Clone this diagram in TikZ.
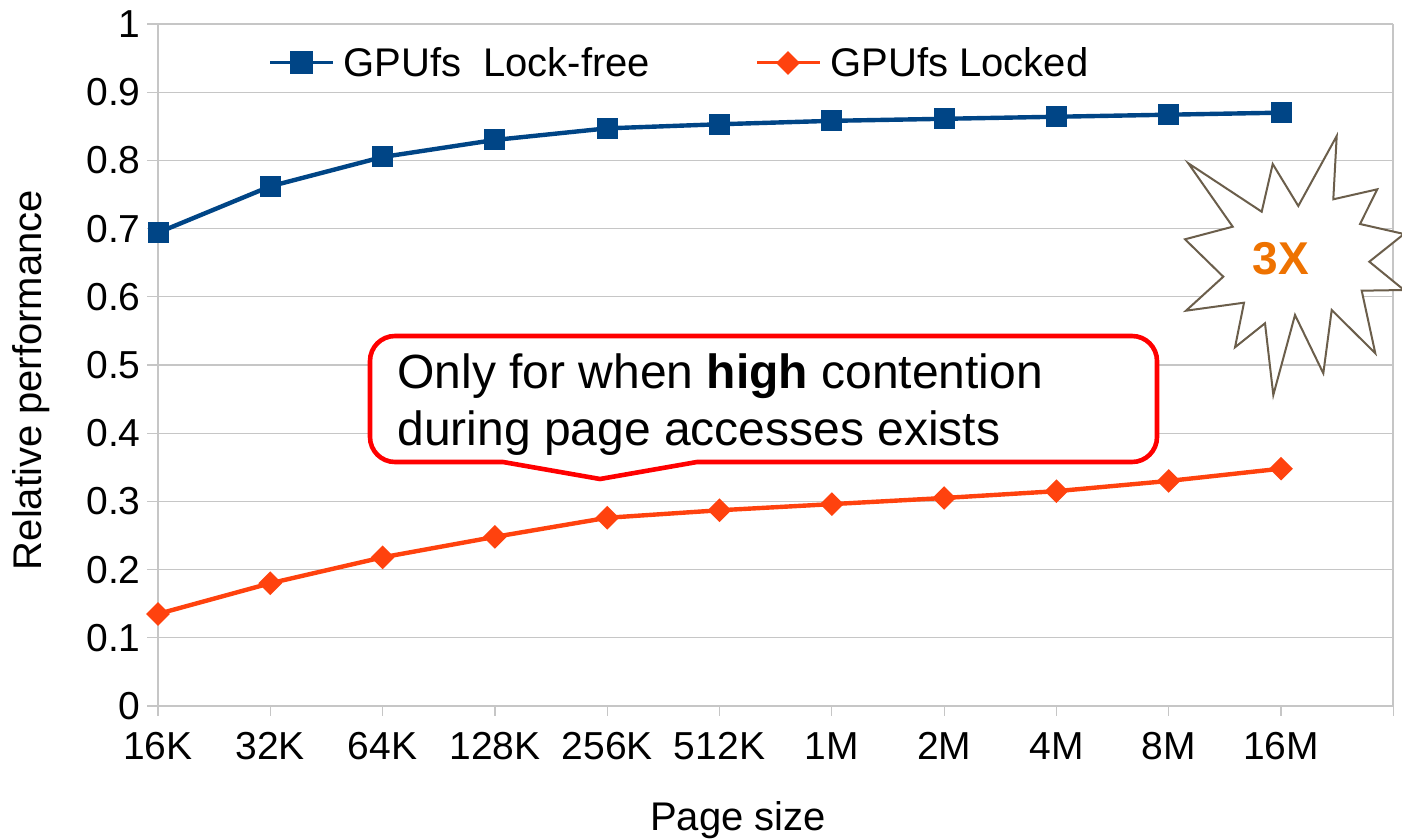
\documentclass[tikz,border=0pt]{standalone}
\usepackage{fontspec}
\setmainfont{Liberation Sans}
\usetikzlibrary{calc,shapes.geometric}
\definecolor{serA}{HTML}{004586}
\definecolor{serB}{HTML}{FF420E}
\definecolor{gridc}{HTML}{C6C6C6}
\definecolor{starc}{HTML}{6B5E4B}
\definecolor{hot}{HTML}{EE7200}
\definecolor{calloutc}{HTML}{FF0000}

\tikzset{
  gridline/.style={gridc, line width=0.6pt},
  seriesA/.style={serA, line width=2.2pt, line join=round},
  seriesB/.style={serB, line width=2.2pt, line join=round},
  sqmark/.style={rectangle, fill=serA, minimum size=10.5pt, inner sep=0pt},
  dmmark/.style={diamond, fill=serB, minimum width=12pt, minimum height=12pt, inner sep=0pt, aspect=1},
  ticklabel/.style={font=\fontsize{19.5}{23}\selectfont, inner sep=0pt},
  axistitle/.style={font=\fontsize{20}{24}\selectfont, inner sep=0pt},
  legendtext/.style={font=\fontsize{20}{24}\selectfont, inner sep=0pt, anchor=base west},
  callouttext/.style={font=\fontsize{24}{28}\selectfont, inner sep=0pt, anchor=base west},
}

\begin{document}
\begin{tikzpicture}[x=0.5pt, y=-0.5pt]
  \useasboundingbox[fill=white] (0,0) rectangle (1402,839);

  % horizontal grid lines with short ticks on the left
  \foreach \k in {0,...,10} {
    \draw[gridline] (147,{706-\k*68.2}) -- (1393,{706-\k*68.2});
  }
  % frame: left and right borders
  \draw[gridline] (158,24) -- (158,706);
  \draw[gridline] (1393,24) -- (1393,706);
  % category ticks below the x axis
  \foreach \i in {0,...,11} {
    \draw[gridline] ({158+\i*112.3},706) -- ({158+\i*112.3},716);
  }

  % y tick labels
  \foreach \lab [count=\k from 0] in {0,0.1,0.2,0.3,0.4,0.5,0.6,0.7,0.8,0.9,1} {
    \node[ticklabel, anchor=east] (ylab\k) at (141,{706-\k*68.2}) {\lab};
  }
  % x tick labels
  \foreach \lab [count=\i from 0] in {16K,32K,64K,128K,256K,512K,1M,2M,4M,8M,16M} {
    \node[ticklabel] (xlab\i) at ({158+\i*112.3},746) {\lab};
  }

  % axis titles
  \node[axistitle, rotate=90] (ytitle) at (31,380) {Relative performance};
  \node[axistitle] (xtitle) at (738,820) {Page size};

  % data points
  \foreach \v [count=\i from 0] in {0.694,0.762,0.805,0.830,0.847,0.853,0.858,0.861,0.864,0.867,0.870} {
    \coordinate (b\i) at ({158+\i*112.3},{706-\v*682});
  }
  \foreach \v [count=\i from 0] in {0.135,0.180,0.218,0.248,0.276,0.287,0.296,0.305,0.315,0.330,0.348} {
    \coordinate (o\i) at ({158+\i*112.3},{706-\v*682});
  }

  % series lines and markers
  \draw[seriesA] (b0) \foreach \i in {1,...,10} { -- (b\i) };
  \draw[seriesB] (o0) \foreach \i in {1,...,10} { -- (o\i) };
  \foreach \i in {0,...,10} {
    \node[sqmark] (bm\i) at (b\i) {};
    \node[dmmark] (om\i) at (o\i) {};
  }

  % legend
  \coordinate (la1) at (270,63);
  \coordinate (la2) at (333,63);
  \draw[serA, line width=1.5pt] (la1) -- (la2);
  \node[sqmark, minimum size=11.5pt] (lam) at (301,63) {};
  \node[legendtext] (latext) at (343,77) {GPUfs \ Lock-free};

  \coordinate (lb1) at (757,63);
  \coordinate (lb2) at (820,63);
  \draw[serB, line width=1.5pt] (lb1) -- (lb2);
  \node[dmmark, minimum width=12pt, minimum height=12pt] (lbm) at (788,63) {};
  \node[legendtext] (lbtext) at (830,77) {GPUfs Locked};

  % callout: rounded box with a sharp pointer at the bottom
  \draw[calloutc, fill=white, line width=2.3pt, line join=miter, rounded corners=12.5pt]
    (1157,400) -- (1157,336) -- (370,336) -- (370,462)
    [sharp corners] -- (503,462) -- (600,479) -- (697,462)
    [rounded corners=12.5pt] -- (1157,462) -- cycle;
  \node[callouttext] (calloutA) at (397,388) {Only for when \textbf{high} contention};
  \node[callouttext] (calloutB) at (397,445) {during page accesses exists};

  % burst star
  \draw[starc, fill=white, line width=1pt, line join=miter]
    (1336.7,136) -- (1333.3,199.3) -- (1377.3,189.3) -- (1360,224)
    -- (1404,234) -- (1369.3,261.7) -- (1404,290) -- (1361.7,290.7)
    -- (1375.3,353.3) -- (1331.7,310) -- (1323.3,373.3) -- (1295,315)
    -- (1273.3,395) -- (1265,323.3) -- (1235,347.3) -- (1244,302.7)
    -- (1186,310.7) -- (1223.3,276.7) -- (1185,239.3) -- (1232.7,226.7)
    -- (1188.3,163.3) -- (1261.7,211.7) -- (1272.7,164) -- (1298.3,206)
    -- cycle;
  \node[font=\fontsize{23}{26}\selectfont\bfseries, text=hot, inner sep=0pt] (burst) at (1281,259) {3X};
\end{tikzpicture}
\end{document}
